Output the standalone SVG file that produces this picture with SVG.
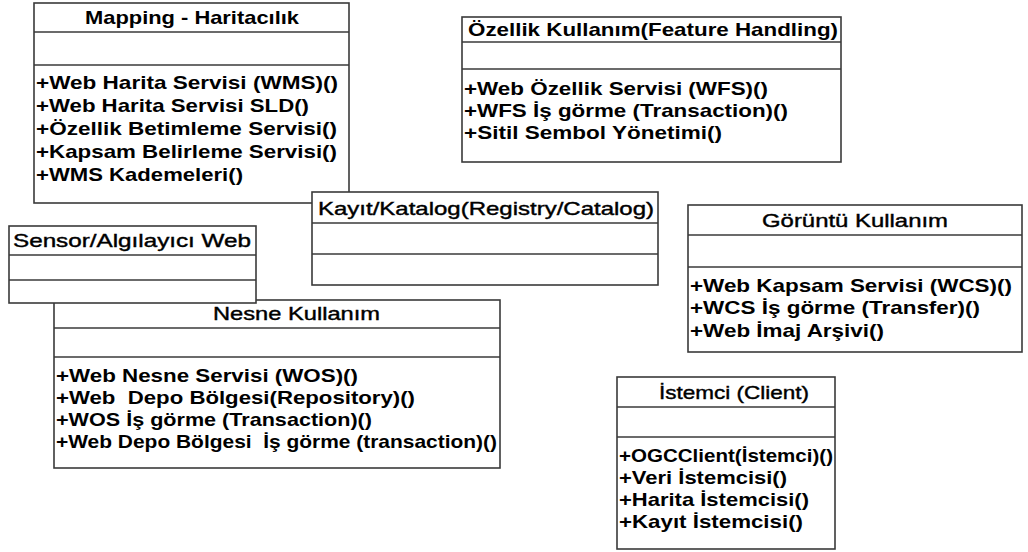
<svg xmlns="http://www.w3.org/2000/svg" width="1028" height="552" viewBox="0 0 1028 552">
<style>
.box{fill:#fff;stroke:#3a3a3a;stroke-width:1.6}
.sep{stroke:#3a3a3a;stroke-width:1.6}
text{font-family:"Liberation Sans",Arial,sans-serif;font-size:18.6px;fill:#000}
.op{font-weight:bold}
.tb{font-weight:bold}
.tm{font-weight:normal;stroke:#000;stroke-width:0.4}
</style>
<rect width="1028" height="552" fill="#fff"/>
<g id="connectors"></g>

<g id="mapping">
<rect class="box" x="34" y="3" width="315" height="200"/>
<line class="sep" x1="34" y1="32" x2="349" y2="32"/>
<line class="sep" x1="34" y1="65" x2="349" y2="65"/>
<text class="tb" x="85" y="24" textLength="214" lengthAdjust="spacingAndGlyphs">Mapping - Haritacılık</text>
<text class="op" x="36" y="89" textLength="302" lengthAdjust="spacingAndGlyphs">+Web Harita Servisi (WMS)()</text>
<text class="op" x="36" y="112" textLength="273" lengthAdjust="spacingAndGlyphs">+Web Harita Servisi SLD()</text>
<text class="op" x="36" y="135" textLength="301" lengthAdjust="spacingAndGlyphs">+Özellik Betimleme Servisi()</text>
<text class="op" x="36" y="158" textLength="301" lengthAdjust="spacingAndGlyphs">+Kapsam Belirleme Servisi()</text>
<text class="op" x="36" y="181" textLength="207" lengthAdjust="spacingAndGlyphs">+WMS Kademeleri()</text>
</g>

<g id="ozellik">
<rect class="box" x="462" y="17" width="379" height="145"/>
<line class="sep" x1="462" y1="42" x2="841" y2="42"/>
<line class="sep" x1="462" y1="69" x2="841" y2="69"/>
<text class="tb" x="468" y="36" textLength="370" lengthAdjust="spacingAndGlyphs">Özellik Kullanım(Feature Handling)</text>
<text class="op" x="464" y="95" textLength="304" lengthAdjust="spacingAndGlyphs">+Web Özellik Servisi (WFS)()</text>
<text class="op" x="464" y="117" textLength="324" lengthAdjust="spacingAndGlyphs">+WFS İş görme (Transaction)()</text>
<text class="op" x="464" y="139" textLength="258" lengthAdjust="spacingAndGlyphs">+Sitil Sembol Yönetimi()</text>
</g>

<g id="kayit">
<rect class="box" x="312" y="192" width="346" height="93"/>
<line class="sep" x1="312" y1="223" x2="658" y2="223"/>
<line class="sep" x1="312" y1="254" x2="658" y2="254"/>
<text class="tm" x="318" y="215" textLength="336" lengthAdjust="spacingAndGlyphs">Kayıt/Katalog(Registry/Catalog)</text>
</g>

<g id="goruntu">
<rect class="box" x="688" y="205" width="334" height="147"/>
<line class="sep" x1="688" y1="235" x2="1022" y2="235"/>
<line class="sep" x1="688" y1="267" x2="1022" y2="267"/>
<text class="tm" x="762" y="227" textLength="186" lengthAdjust="spacingAndGlyphs">Görüntü Kullanım</text>
<text class="op" x="690" y="292" textLength="322" lengthAdjust="spacingAndGlyphs">+Web Kapsam Servisi (WCS)()</text>
<text class="op" x="690" y="314" textLength="290" lengthAdjust="spacingAndGlyphs">+WCS İş görme (Transfer)()</text>
<text class="op" x="690" y="337" textLength="194" lengthAdjust="spacingAndGlyphs">+Web İmaj Arşivi()</text>
</g>

<g id="nesne">
<rect class="box" x="54" y="300" width="446" height="168"/>
<line class="sep" x1="54" y1="328" x2="500" y2="328"/>
<line class="sep" x1="54" y1="357" x2="500" y2="357"/>
<text class="tm" x="213" y="320" textLength="167" lengthAdjust="spacingAndGlyphs">Nesne Kullanım</text>
<text class="op" x="56" y="382" textLength="302" lengthAdjust="spacingAndGlyphs">+Web Nesne Servisi (WOS)()</text>
<text class="op" x="56" y="404" textLength="359" lengthAdjust="spacingAndGlyphs" xml:space="preserve">+Web  Depo Bölgesi(Repository)()</text>
<text class="op" x="56" y="426" textLength="316" lengthAdjust="spacingAndGlyphs">+WOS İş görme (Transaction)()</text>
<text class="op" x="56" y="448" textLength="441" lengthAdjust="spacingAndGlyphs" xml:space="preserve">+Web Depo Bölgesi  İş görme (transaction)()</text>
</g>

<g id="sensor">
<rect class="box" x="9" y="226" width="247" height="77"/>
<line class="sep" x1="9" y1="255" x2="256" y2="255"/>
<line class="sep" x1="9" y1="280" x2="256" y2="280"/>
<text class="tm" x="13" y="247" textLength="238" lengthAdjust="spacingAndGlyphs">Sensor/Algılayıcı Web</text>
</g>

<g id="istemci">
<rect class="box" x="617" y="377" width="218" height="172"/>
<line class="sep" x1="617" y1="407" x2="835" y2="407"/>
<line class="sep" x1="617" y1="437" x2="835" y2="437"/>
<text class="tm" x="659" y="399" textLength="150" lengthAdjust="spacingAndGlyphs">İstemci (Client)</text>
<text class="op" x="619" y="462" textLength="214" lengthAdjust="spacingAndGlyphs">+OGCClient(İstemci)()</text>
<text class="op" x="619" y="484" textLength="168" lengthAdjust="spacingAndGlyphs">+Veri İstemcisi()</text>
<text class="op" x="619" y="506" textLength="190" lengthAdjust="spacingAndGlyphs">+Harita İstemcisi()</text>
<text class="op" x="619" y="528" textLength="184" lengthAdjust="spacingAndGlyphs">+Kayıt İstemcisi()</text>
</g>
</svg>
